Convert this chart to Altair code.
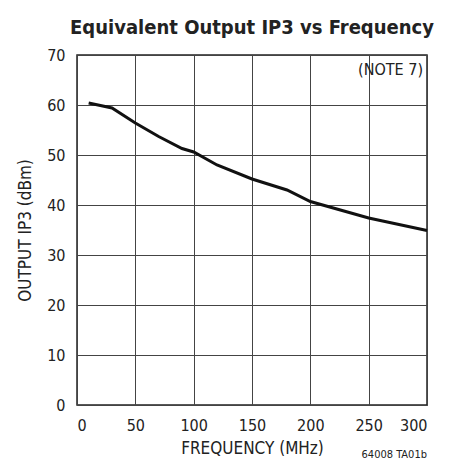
import altair as alt
import pandas as pd

freq = [10, 30, 50, 70, 90, 100, 120, 150, 180, 200, 250, 300]
ip3 = [60.4, 59.4, 56.4, 53.7, 51.3, 50.6, 48.0, 45.2, 43.0, 40.7, 37.4, 34.9]

x_ticks = [0, 50, 100, 150, 200, 250, 300]
y_ticks = [0, 10, 20, 30, 40, 50, 60, 70]

note_text = ["(NOTE 7)"]
code_text = ["64008 TA01b"]

FONT = "'DejaVu Sans Condensed', 'Liberation Sans Narrow', 'Roboto Condensed', sans-serif"

df = pd.DataFrame({"f": freq, "v": ip3})

x_enc = alt.X("f:Q", scale=alt.Scale(domain=[0, 300], nice=False, zero=False),
              axis=alt.Axis(values=x_ticks, title="FREQUENCY (MHz)", grid=True,
                            ticks=False, domain=False, labelPadding=12,
                            titlePadding=7))
y_enc = alt.Y("v:Q", scale=alt.Scale(domain=[0, 70], nice=False, zero=False),
              axis=alt.Axis(values=y_ticks, title="OUTPUT IP3 (dBm)", grid=True,
                            ticks=False, domain=False, labelPadding=12,
                            titlePadding=12))

line = alt.Chart(df).mark_line(color="#111111", strokeWidth=3).encode(x=x_enc, y=y_enc)

note = alt.Chart(pd.DataFrame({"f": [300], "v": [70], "t": note_text})).mark_text(
    align="right", baseline="top", dx=-4, dy=7, font=FONT, fontSize=16, color="#222222"
).encode(x="f:Q", y="v:Q", text="t:N")

code = alt.Chart(pd.DataFrame({"f": [300], "v": [0], "t": code_text})).mark_text(
    align="right", baseline="top", dx=0, dy=44, font=FONT, fontSize=11, color="#222222"
).encode(x="f:Q", y="v:Q", text="t:N")

chart = alt.layer(line, note, code).properties(
    width=350, height=350,
    title=alt.TitleParams("Equivalent Output IP3 vs Frequency", font=FONT,
                          fontSize=20, fontWeight="bold", color="#222222",
                          anchor="middle", offset=9),
    autosize=alt.AutoSizeParams(type="none"),
    padding={"left": 69, "top": 47, "right": 19, "bottom": 56},
    background="white",
).configure_view(stroke="#222222", strokeWidth=1.5).configure_axis(
    gridColor="#444444", gridWidth=1, gridOpacity=1,
    labelFont=FONT, labelFontSize=16, labelColor="#222222",
    titleFont=FONT, titleFontSize=17, titleColor="#222222", titleFontWeight="normal",
)

chart.save("out.html", embed_options={"renderer": "svg", "actions": False})
